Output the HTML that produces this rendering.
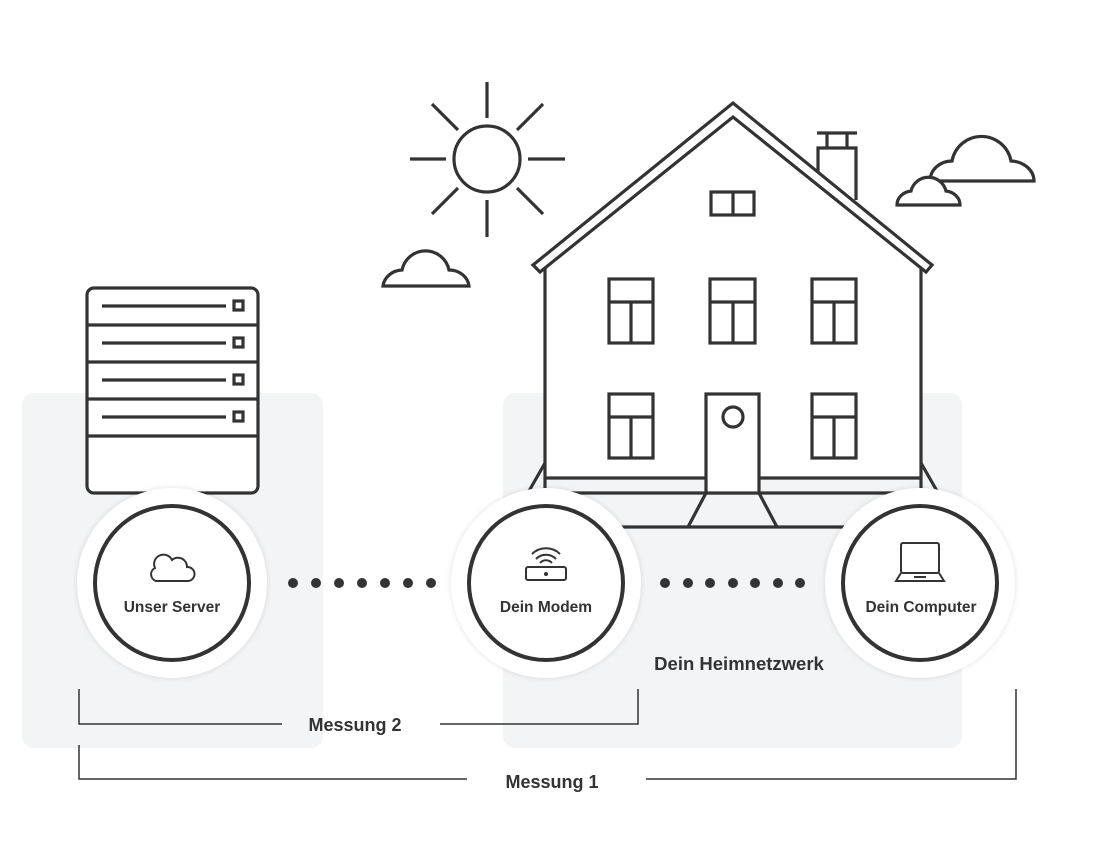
<!DOCTYPE html>
<html><head><meta charset="utf-8"><style>
html,body{margin:0;padding:0;background:#fff;}
svg{display:block;}
text{font-family:"Liberation Sans",sans-serif;font-weight:bold;fill:#333;}
</style></head><body>
<svg width="1093" height="850" viewBox="0 0 1093 850" xmlns="http://www.w3.org/2000/svg">
<defs>
<filter id="sh" x="-20%" y="-20%" width="140%" height="140%"><feGaussianBlur stdDeviation="3"/></filter>
</defs>
<rect x="22" y="393" width="301" height="355" rx="12" fill="#f3f4f6"/>
<rect x="503" y="393" width="459" height="355" rx="12" fill="#f3f4f6"/>

<path d="M545,270 L733,117 L921,270 L921,478 L545,478 Z" fill="#fff"/>
<g fill="none" stroke="#333" stroke-width="3.2" stroke-linejoin="miter">
<!-- sun -->
<circle cx="487" cy="159" r="33"/>
<line x1="410" y1="159" x2="446" y2="159"/><line x1="528" y1="159" x2="565" y2="159"/>
<line x1="487" y1="82" x2="487" y2="118"/><line x1="487" y1="200" x2="487" y2="237"/>
<line x1="432" y1="104" x2="458" y2="130"/><line x1="543" y1="104" x2="517" y2="130"/>
<line x1="432" y1="214" x2="458" y2="188"/><line x1="543" y1="214" x2="517" y2="188"/>
<!-- clouds -->
<path d="M383,286 A20,18 0 0 1 402,270 A24,24 0 0 1 449,270 A20,18 0 0 1 469,286 Z" fill="#fff"/>
<path d="M930,181 A22,20 0 0 1 952,161 A30,30 0 0 1 1011,161 A24,20 0 0 1 1034,181 Z" fill="#fff"/>
<path d="M897,205 A16,14 0 0 1 911,191 A18,18 0 0 1 946,191 A16,14 0 0 1 960,205 Z" fill="#fff"/>
<!-- chimney -->
<line x1="817" y1="133" x2="857" y2="133"/>
<line x1="827" y1="133" x2="827" y2="148"/><line x1="847" y1="133" x2="847" y2="148"/>
<path d="M818,172 L818,148 L856,148 L856,200" fill="#fff"/>
<!-- house walls -->
<line x1="545" y1="268" x2="545" y2="478"/><line x1="921" y1="268" x2="921" y2="478"/>
<!-- roof -->
<path d="M533,265 L733,103 L932,265 L926,272 L733,117 L540,272 Z" fill="#fff"/>
<!-- base -->
<line x1="545" y1="478" x2="921" y2="478"/>
<line x1="545" y1="493" x2="921" y2="493"/>
<line x1="545" y1="478" x2="545" y2="493"/><line x1="921" y1="478" x2="921" y2="493"/>
<line x1="545" y1="463" x2="525" y2="498"/><line x1="921" y1="463" x2="941" y2="498"/>
<line x1="545" y1="527" x2="921" y2="527"/>
<path d="M706,493 L688,527 M759,493 L777,527"/>
<!-- door -->
<rect x="706" y="394" width="53" height="99" fill="#fff"/>
<circle cx="733" cy="417" r="10"/>
<!-- attic window -->
<rect x="711" y="192" width="43" height="23"/><line x1="733" y1="192" x2="733" y2="215"/>
<!-- windows -->
<rect x="609" y="279" width="44" height="64"/><line x1="609" y1="302" x2="653" y2="302"/><line x1="631" y1="302" x2="631" y2="343"/>
<rect x="710" y="279" width="45" height="64"/><line x1="710" y1="302" x2="755" y2="302"/><line x1="733" y1="302" x2="733" y2="343"/>
<rect x="812" y="279" width="44" height="64"/><line x1="812" y1="302" x2="856" y2="302"/><line x1="834" y1="302" x2="834" y2="343"/>
<rect x="609" y="394" width="44" height="64"/><line x1="609" y1="417" x2="653" y2="417"/><line x1="631" y1="417" x2="631" y2="458"/>
<rect x="812" y="394" width="44" height="64"/><line x1="812" y1="417" x2="856" y2="417"/><line x1="834" y1="417" x2="834" y2="458"/>
<!-- server -->
<rect x="87" y="288" width="171" height="205" rx="7" fill="#fff"/>
<line x1="87" y1="325" x2="258" y2="325"/><line x1="87" y1="362" x2="258" y2="362"/>
<line x1="87" y1="399" x2="258" y2="399"/><line x1="87" y1="436" x2="258" y2="436"/>
<line x1="102" y1="306" x2="226" y2="306"/><rect x="234" y="301" width="9" height="9"/>
<line x1="102" y1="343" x2="226" y2="343"/><rect x="234" y="338" width="9" height="9"/>
<line x1="102" y1="380" x2="226" y2="380"/><rect x="234" y="375" width="9" height="9"/>
<line x1="102" y1="417" x2="226" y2="417"/><rect x="234" y="412" width="9" height="9"/>
</g>

<!-- circles -->
<g>
<circle cx="172" cy="583" r="95" fill="#000" opacity="0.12" filter="url(#sh)"/>
<circle cx="546" cy="583" r="95" fill="#000" opacity="0.12" filter="url(#sh)"/>
<circle cx="920" cy="583" r="95" fill="#000" opacity="0.12" filter="url(#sh)"/>
<circle cx="172" cy="583" r="95" fill="#fff"/>
<circle cx="546" cy="583" r="95" fill="#fff"/>
<circle cx="920" cy="583" r="95" fill="#fff"/>
<g fill="none" stroke="#333" stroke-width="4">
<circle cx="172" cy="583" r="77"/><circle cx="546" cy="583" r="77"/><circle cx="920" cy="583" r="77"/>
</g>
</g>
<!-- icons -->
<g fill="none" stroke="#333" stroke-width="2">
<path d="M156,581 A7,7 0 0 1 155,568 A9,9 0 0 1 172,560 A9,9 0 0 1 187,567 A7,7 0 0 1 188,581 Z"/>
<rect x="526" y="567" width="40" height="13" rx="2"/>
<path d="M532,554 A20,20 0 0 1 560,554 M536,559 A14,14 0 0 1 556,559 M540,563 A8,8 0 0 1 552,563"/>
<rect x="901" y="543" width="38" height="30" rx="2"/>
<path d="M901,573 L896,581 L944,581 L939,573"/>
<line x1="914" y1="577" x2="926" y2="577"/>
</g>
<circle cx="546" cy="574" r="2" fill="#333"/>
<!-- dots -->
<g fill="#333">
<circle cx="293" cy="583" r="5"/><circle cx="316" cy="583" r="5"/><circle cx="339" cy="583" r="5"/><circle cx="362" cy="583" r="5"/><circle cx="385" cy="583" r="5"/><circle cx="408" cy="583" r="5"/><circle cx="431" cy="583" r="5"/>
<circle cx="665" cy="583" r="5"/><circle cx="688" cy="583" r="5"/><circle cx="710" cy="583" r="5"/><circle cx="733" cy="583" r="5"/><circle cx="755" cy="583" r="5"/><circle cx="778" cy="583" r="5"/><circle cx="800" cy="583" r="5"/>
</g>
<!-- labels -->
<text x="172" y="612" font-size="15.5" text-anchor="middle">Unser Server</text>
<text x="546" y="612" font-size="15.5" text-anchor="middle">Dein Modem</text>
<text x="921" y="612" font-size="15.5" text-anchor="middle">Dein Computer</text>
<text x="739" y="670" font-size="18.5" text-anchor="middle">Dein Heimnetzwerk</text>
<!-- brackets -->
<g fill="none" stroke="#333" stroke-width="1.5">
<path d="M79,689 L79,724 L282,724 M440,724 L638,724 L638,689"/>
<path d="M79,745 L79,779 L467,779 M646,779 L1016,779 L1016,689"/>
</g>
<text x="355" y="731" font-size="18" text-anchor="middle">Messung 2</text>
<text x="552" y="788" font-size="18" text-anchor="middle">Messung 1</text>
</svg>
</body></html>
